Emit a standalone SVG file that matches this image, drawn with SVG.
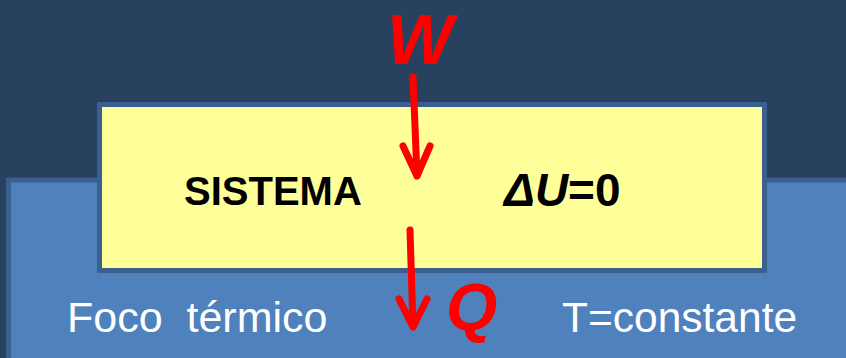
<svg xmlns="http://www.w3.org/2000/svg" width="846" height="358" viewBox="0 0 846 358">
  <style>
    .box { stroke: #3B6090; stroke-width: 5; }
    .lbl { font-family: "Liberation Sans", Arial, sans-serif; }
    .flow { fill: #FF0000; font-family: "Liberation Sans", Arial, sans-serif; font-weight: bold; font-style: italic; }
    .arrow { fill: none; stroke: #FF0000; stroke-width: 7; stroke-linecap: round; stroke-linejoin: round; }
  </style>
  <rect width="846" height="358" fill="#27415F"/>

  <!-- thermal reservoir -->
  <g id="foco">
    <rect class="box" x="8.5" y="180" width="850" height="200" fill="#4F81BD"/>
    <text class="lbl" x="67" y="332" font-size="43" fill="#FFFFFF" xml:space="preserve">Foco  térmico</text>
    <text class="lbl" x="562" y="332" font-size="42.5" fill="#FFFFFF">T=constante</text>
  </g>

  <!-- system -->
  <g id="sistema">
    <rect class="box" x="99.5" y="104.5" width="665" height="166" fill="#FFFF99"/>
    <text class="lbl" x="184" y="205" font-size="40" font-weight="bold" fill="#000000">SISTEMA</text>
    <text class="lbl" x="504" y="206" font-size="46" font-weight="bold" fill="#000000"><tspan font-style="italic">ΔU</tspan>=0</text>
  </g>

  <!-- work in, heat out -->
  <g id="connectors">
    <path class="arrow" d="M413 77 L417 176 M403 146 L417 176 L430 146"/>
    <path class="arrow" d="M410 230 L413 327 M399 299 L413 327 L427 299"/>
  </g>

  <g id="labels">
    <text class="flow" x="387" y="64" font-size="70">W</text>
    <text class="flow" x="446" y="330" font-size="66">Q</text>
  </g>
</svg>
